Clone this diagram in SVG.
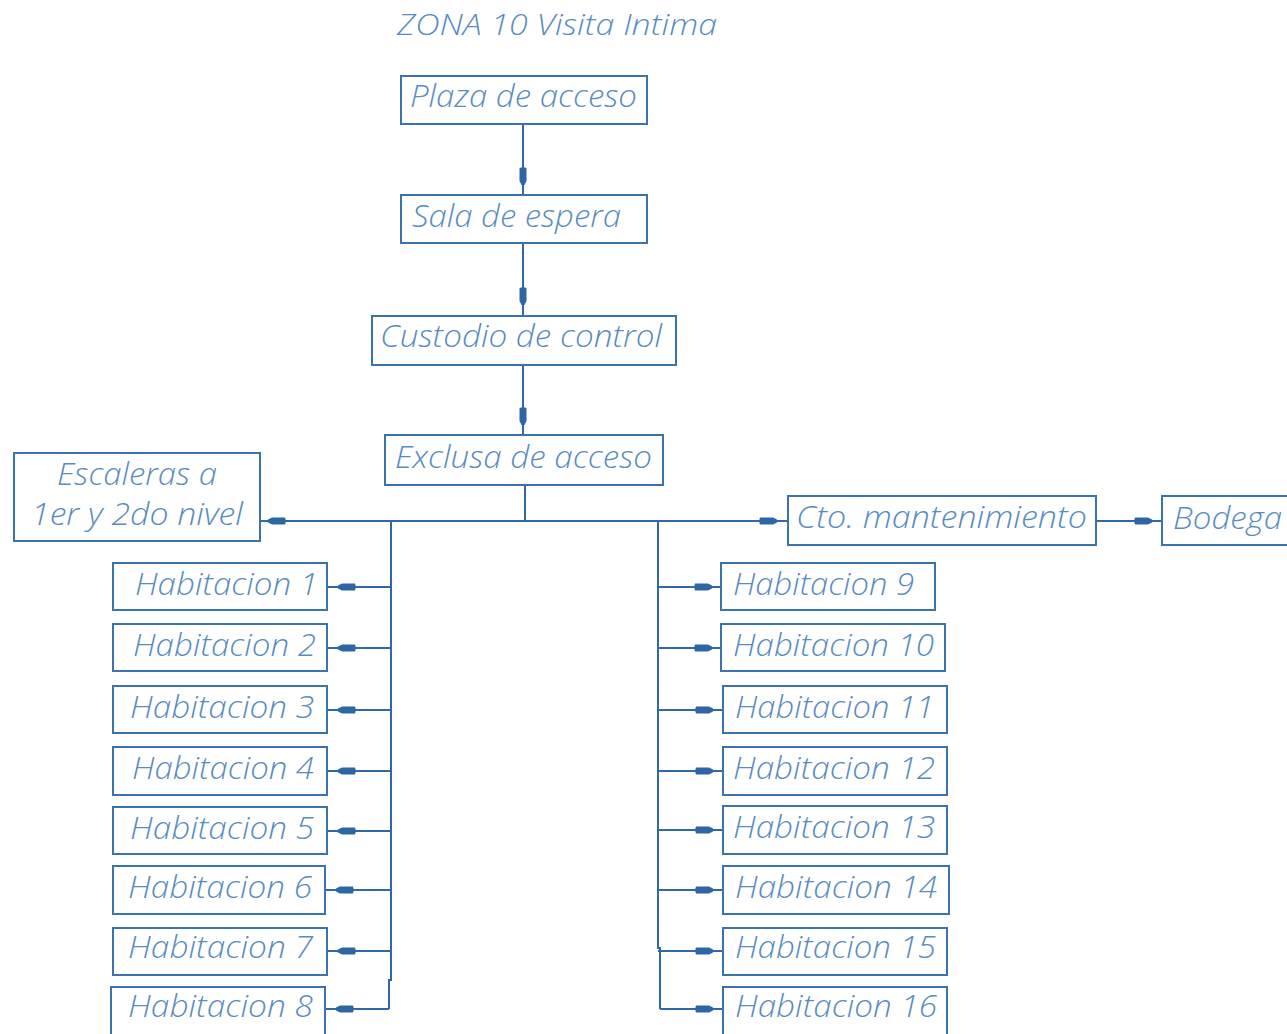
<svg xmlns="http://www.w3.org/2000/svg" xmlns:xlink="http://www.w3.org/1999/xlink" width="1287" height="1034" viewBox="0 0 1287 1034">
<style>
.bg{fill:#ffffff}
.box{fill:#ffffff;stroke:#3b73ae;stroke-width:2}
.t{font-family:"Open Sans","Liberation Sans",sans-serif;font-style:italic;font-weight:300;font-size:31px;fill:#5a8cc2}
.title{font-size:30px}
.c{fill:none;stroke:#3169a7;stroke-width:2}
.a{marker-mid:url(#ah)}
</style>
<defs>
<marker id="ah" viewBox="-18 -5 20 10" markerWidth="20" markerHeight="10" refX="0" refY="0" orient="auto" markerUnits="userSpaceOnUse">
<path d="M-17,-3.5 L-4,-3.5 L0,-1.5 L0,1.5 L-4,3.5 L-17,3.5 L-18,0 Z" fill="#2d66a4"/>
</marker>
</defs>
<rect class="bg" x="0" y="0" width="1287" height="1034"/>
<text class="t title" x="397" y="35" textLength="320" lengthAdjust="spacingAndGlyphs">ZONA 10 Visita Intima</text>

<g id="connectors">
<path class="c a" d="M523,124 V185 V195"/>
<path class="c a" d="M523,243 V305 V316"/>
<path class="c a" d="M523,365 V425 V435"/>
<path class="c" d="M525,485 V521"/>
<path class="c a" d="M525,521 H268 H260"/>
<path class="c a" d="M525,521 H777 H788"/>
<path class="c a" d="M1096,521 H1152 H1162"/>
<path class="c" d="M391,521 V980 H389 V1009"/>
<path class="c" d="M658,521 V948 H660 V1009"/>
<path class="c a" d="M391,587 H338 H327"/>
<path class="c a" d="M391,648 H338 H327"/>
<path class="c a" d="M391,710 H338 H327"/>
<path class="c a" d="M391,771 H338 H327"/>
<path class="c a" d="M391,831 H338 H327"/>
<path class="c a" d="M391,890 H336 H325"/>
<path class="c a" d="M391,951 H338 H327"/>
<path class="c a" d="M389,1009 H336 H325"/>
<path class="c a" d="M658,587 H712 H721"/>
<path class="c a" d="M658,648 H712 H721"/>
<path class="c a" d="M658,710 H713 H723"/>
<path class="c a" d="M658,771 H713 H723"/>
<path class="c a" d="M658,830 H713 H723"/>
<path class="c a" d="M658,890 H713 H723"/>
<path class="c a" d="M658,951 H713 H723"/>
<path class="c a" d="M660,1009 H713 H723"/>
</g>

<g id="n-plaza"><rect class="box" x="401" y="76" width="246" height="48"/><text class="t" x="410" y="107" textLength="227" lengthAdjust="spacingAndGlyphs">Plaza de acceso</text></g>
<g id="n-sala"><rect class="box" x="401" y="195" width="246" height="48"/><text class="t" x="412" y="227" textLength="209" lengthAdjust="spacingAndGlyphs">Sala de espera</text></g>
<g id="n-custodio"><rect class="box" x="372" y="316" width="304" height="49"/><text class="t" x="380" y="347" textLength="282" lengthAdjust="spacingAndGlyphs">Custodio de control</text></g>
<g id="n-exclusa"><rect class="box" x="385" y="435" width="278" height="50"/><text class="t" x="395" y="468" textLength="257" lengthAdjust="spacingAndGlyphs">Exclusa de acceso</text></g>
<g id="n-escaleras"><rect class="box" x="14" y="453" width="246" height="88"/><text class="t" x="57" y="485" textLength="160" lengthAdjust="spacingAndGlyphs">Escaleras a</text><text class="t" x="31" y="525" textLength="212" lengthAdjust="spacingAndGlyphs">1er y 2do nivel</text></g>
<g id="n-cto"><rect class="box" x="788" y="496" width="308" height="49"/><text class="t" x="796" y="528" textLength="291" lengthAdjust="spacingAndGlyphs">Cto. mantenimiento</text></g>
<g id="n-bodega"><rect class="box" x="1162" y="496" width="130" height="49"/><text class="t" x="1173" y="529" textLength="109" lengthAdjust="spacingAndGlyphs">Bodega</text></g>

<g id="n-h1"><rect class="box" x="113" y="563" width="214" height="47"/><text class="t" x="135" y="595" textLength="183" lengthAdjust="spacingAndGlyphs">Habitacion 1</text></g>
<g id="n-h2"><rect class="box" x="113" y="624" width="214" height="47"/><text class="t" x="133" y="656" textLength="183" lengthAdjust="spacingAndGlyphs">Habitacion 2</text></g>
<g id="n-h3"><rect class="box" x="113" y="686" width="214" height="47"/><text class="t" x="130" y="718" textLength="184" lengthAdjust="spacingAndGlyphs">Habitacion 3</text></g>
<g id="n-h4"><rect class="box" x="113" y="747" width="214" height="48"/><text class="t" x="132" y="779" textLength="182" lengthAdjust="spacingAndGlyphs">Habitacion 4</text></g>
<g id="n-h5"><rect class="box" x="113" y="807" width="214" height="47"/><text class="t" x="130" y="839" textLength="184" lengthAdjust="spacingAndGlyphs">Habitacion 5</text></g>
<g id="n-h6"><rect class="box" x="113" y="866" width="212" height="48"/><text class="t" x="128" y="898" textLength="184" lengthAdjust="spacingAndGlyphs">Habitacion 6</text></g>
<g id="n-h7"><rect class="box" x="113" y="928" width="214" height="47"/><text class="t" x="128" y="958" textLength="185" lengthAdjust="spacingAndGlyphs">Habitacion 7</text></g>
<g id="n-h8"><rect class="box" x="111" y="987" width="214" height="48"/><text class="t" x="128" y="1017" textLength="185" lengthAdjust="spacingAndGlyphs">Habitacion 8</text></g>

<g id="n-h9"><rect class="box" x="721" y="563" width="214" height="47"/><text class="t" x="733" y="595" textLength="181" lengthAdjust="spacingAndGlyphs">Habitacion 9</text></g>
<g id="n-h10"><rect class="box" x="721" y="624" width="224" height="47"/><text class="t" x="733" y="656" textLength="201" lengthAdjust="spacingAndGlyphs">Habitacion 10</text></g>
<g id="n-h11"><rect class="box" x="723" y="686" width="224" height="47"/><text class="t" x="735" y="718" textLength="199" lengthAdjust="spacingAndGlyphs">Habitacion 11</text></g>
<g id="n-h12"><rect class="box" x="723" y="747" width="224" height="48"/><text class="t" x="733" y="779" textLength="202" lengthAdjust="spacingAndGlyphs">Habitacion 12</text></g>
<g id="n-h13"><rect class="box" x="723" y="806" width="224" height="48"/><text class="t" x="733" y="838" textLength="202" lengthAdjust="spacingAndGlyphs">Habitacion 13</text></g>
<g id="n-h14"><rect class="box" x="723" y="866" width="226" height="48"/><text class="t" x="735" y="898" textLength="202" lengthAdjust="spacingAndGlyphs">Habitacion 14</text></g>
<g id="n-h15"><rect class="box" x="723" y="928" width="224" height="47"/><text class="t" x="735" y="958" textLength="201" lengthAdjust="spacingAndGlyphs">Habitacion 15</text></g>
<g id="n-h16"><rect class="box" x="723" y="987" width="224" height="48"/><text class="t" x="735" y="1017" textLength="202" lengthAdjust="spacingAndGlyphs">Habitacion 16</text></g>
</svg>
